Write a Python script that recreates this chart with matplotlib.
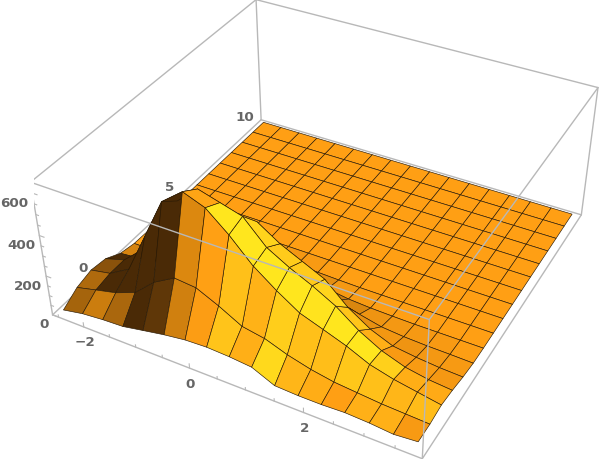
import numpy as np
import matplotlib
matplotlib.use("Agg")
from matplotlib import pyplot as plt
from matplotlib.colors import LinearSegmentedColormap
from mpl_toolkits.mplot3d import proj3d

x_grid = [-2.49, -2.10, -1.70, -1.31, -0.92, -0.52, -0.13, 0.26, 0.66, 1.05, 1.44, 1.84, 2.23, 2.62, 3.02, 3.41, 3.80]
y_grid = [-2.0, -1.25, -0.5, 0.25, 1.0, 1.75, 2.5, 3.25, 4.0, 4.75, 5.5, 6.25, 7.0, 7.75, 8.5, 9.25, 10.0]

# one row per y value
z_grid = [
    [15, 35, 45, 50, 70, 90, 105, 110, 105, 95, 45, 40, 40, 45, 40, 30, 40],
    [60, 85, 110, 150, 240, 300, 290, 240, 180, 160, 120, 90, 70, 60, 50, 45, 40],
    [80, 100, 160, 360, 560, 640, 600, 510, 400, 320, 250, 210, 170, 120, 90, 70, 50],
    [70, 100, 190, 330, 500, 590, 560, 530, 420, 360, 310, 250, 170, 110, 70, 50, 40],
    [30, 40, 60, 130, 230, 330, 400, 440, 370, 320, 270, 170, 100, 55, 40, 30, 25],
    [15, 15, 25, 45, 80, 120, 170, 200, 180, 140, 90, 60, 35, 25, 20, 18, 15],
    [13, 13, 15, 18, 25, 40, 55, 65, 55, 40, 25, 18, 15, 13, 13, 13, 13],
    [13, 13, 13, 13, 13, 15, 18, 20, 18, 15, 13, 13, 13, 13, 13, 13, 13],
    [13] * 17,
    [13] * 17,
    [13] * 17,
    [13] * 17,
    [13] * 17,
    [13] * 17,
    [13] * 17,
    [13] * 17,
    [13] * 17,
]

x_ticks = [-2, 0, 2]
x_labels = ["\u22122", "0", "2"]
x_minor = [-2.5, -1.5, -1, -0.5, 0.5, 1, 1.5, 2.5, 3, 3.5]
y_ticks = [0, 5, 10]
y_labels = ["0", "5", "10"]
z_ticks = [0, 200, 400, 600]
z_labels = ["0", "200", "400", "600"]
z_minor = [50, 100, 150, 250, 300, 350, 450, 500, 550]

XMIN, XMAX = -2.62, 3.93
YMIN, YMAX = -2.24, 10.24
ZMIN, ZMAX = 0, 650

BOX = "#b8b8b8"
TEXT = "#666666"

# position worked out from the box corners in the reference
S, CX, CY = 3095.478 / 1.024, 320.8, 208.6
side = S * 2 * 0.095

fig = plt.figure(figsize=(6, 4.6), dpi=100)
ax = fig.add_axes([(CX - side / 2) / 600, (460 - CY - side / 2) / 460, side / 600, side / 460],
                  projection="3d", computed_zorder=False)
ax.patch.set_alpha(0)
ax.set_axis_off()
ax.view_init(elev=36.2335, azim=-61.2341, roll=0.4126)
ax.set_proj_type("persp", focal_length=0.43537)
ax.set_box_aspect((2.50596, 2.49614, 1.0))

X, Y = np.meshgrid(x_grid, y_grid)
Z = np.array(z_grid, dtype=float)

# per-face lighting, flat faces stay orange
xs = np.array(x_grid)
ys = np.array(y_grid)
gx = np.diff((Z[:-1, :] + Z[1:, :]) / 2, axis=1) / (ZMAX - ZMIN) / (np.diff(xs)[None, :] / (XMAX - XMIN) * 2.5)
gy = np.diff((Z[:, :-1] + Z[:, 1:]) / 2, axis=0) / (ZMAX - ZMIN) / (np.diff(ys)[:, None] / (YMAX - YMIN) * 2.5)
norm = np.sqrt(gx ** 2 + gy ** 2 + 1)
nx = -gx / norm
ny = -gy / norm
score = 1.3 * nx - 0.15 * np.abs(ny) - 1.2 * np.maximum(np.abs(ny) - 0.8, 0) - 0.8 * np.maximum(ny, 0)
light = LinearSegmentedColormap.from_list("light", [
    (0.0, "#4a2a06"),
    (0.1, "#7a470a"),
    (0.25, "#d9860f"),
    (0.5, "#ff9f14"),
    (0.68, "#ffc41a"),
    (1.0, "#ffe61e"),
])
colors = light(np.clip(score + 0.5, 0, 1))

ax.plot_surface(X, Y, Z, rstride=1, cstride=1, facecolors=colors, edgecolor="#2a1a05",
                linewidth=0.45, shade=False, antialiased=True, zorder=2)


def edge(p, q, z):
    ax.plot([p[0], q[0]], [p[1], q[1]], [p[2], q[2]], color=BOX, lw=1.0, zorder=z, solid_capstyle="round")


# box lines behind the surface
edge((XMIN, YMAX, ZMIN), (XMIN, YMAX, ZMAX), 1)
edge((XMIN, YMIN, ZMIN), (XMIN, YMAX, ZMIN), 1)
edge((XMIN, YMAX, ZMIN), (XMAX, YMAX, ZMIN), 1)
edge((XMAX, YMIN, ZMIN), (XMAX, YMAX, ZMIN), 3)
edge((XMAX, YMAX, ZMIN), (XMAX, YMAX, ZMAX), 1)
edge((XMIN, YMIN, ZMIN), (XMIN, YMIN, ZMAX), 1)
# and the ones in front of it
edge((XMIN, YMIN, ZMIN), (XMAX, YMIN, ZMIN), 3)
edge((XMAX, YMIN, ZMIN), (XMAX, YMIN, ZMAX), 3)
edge((XMIN, YMIN, ZMAX), (XMAX, YMIN, ZMAX), 3)
edge((XMAX, YMIN, ZMAX), (XMAX, YMAX, ZMAX), 3)
edge((XMAX, YMAX, ZMAX), (XMIN, YMAX, ZMAX), 1)
edge((XMIN, YMAX, ZMAX), (XMIN, YMIN, ZMAX), 1)

# ticks
for t in x_ticks:
    ax.plot([t, t], [YMIN, YMIN], [ZMIN, ZMIN + 22], color=BOX, lw=0.8, zorder=1)
for t in x_minor:
    ax.plot([t, t], [YMIN, YMIN], [ZMIN, ZMIN + 12], color=BOX, lw=0.8, zorder=1)
for t in z_ticks:
    ax.plot([XMIN, XMIN + 0.09], [YMIN, YMIN], [t, t], color=BOX, lw=0.8, zorder=1)
for t in z_minor:
    ax.plot([XMIN, XMIN + 0.05], [YMIN, YMIN], [t, t], color=BOX, lw=0.8, zorder=1)

ax.set_xlim(XMIN, XMAX)
ax.set_ylim(YMIN, YMAX)
ax.set_zlim(ZMIN, ZMAX)

M = ax.get_proj()


def label(px, py, pz, s, dx, dy, ha):
    u, v, _ = proj3d.proj_transform(px, py, pz, M)
    ax.annotate(s, (u, v), xytext=(dx, dy), textcoords="offset pixels", ha=ha, va="center",
                color=TEXT, fontsize=9.7, fontweight="bold", zorder=5, annotation_clip=False)


for t, s in zip(x_ticks, x_labels):
    label(t, YMIN, ZMIN, s, 1, -15, "center")
for t, s in zip(y_ticks, y_labels):
    label(XMIN, t, ZMIN, s, -13, 6, "center")
for t, s in zip(z_ticks, z_labels):
    label(XMIN, YMIN, t, s, -4, -9, "right")

fig.savefig("out.png", dpi=100)
